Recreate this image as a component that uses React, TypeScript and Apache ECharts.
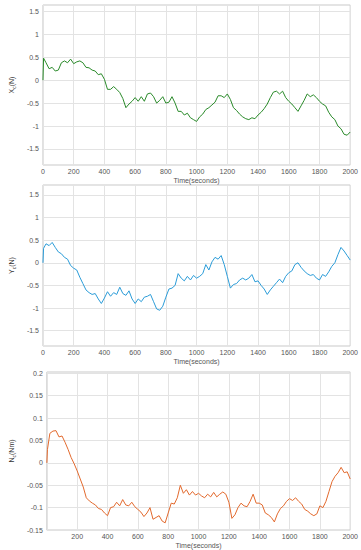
import React, { useEffect, useRef } from "react";
import * as echarts from "echarts";

const TIME = [0, 4, 20, 40, 60, 80, 100, 120, 140, 160, 180, 200, 220, 240, 260, 280, 300, 320, 340, 360, 380, 400, 420, 440, 460, 480, 500, 520, 540, 560, 580, 600, 620, 640, 660, 680, 700, 720, 740, 760, 780, 800, 820, 840, 860, 880, 900, 920, 940, 960, 980, 1000, 1020, 1040, 1060, 1080, 1100, 1120, 1140, 1160, 1180, 1200, 1220, 1240, 1260, 1280, 1300, 1320, 1340, 1360, 1380, 1400, 1420, 1440, 1460, 1480, 1500, 1520, 1540, 1560, 1580, 1600, 1620, 1640, 1660, 1680, 1700, 1720, 1740, 1760, 1780, 1800, 1820, 1840, 1860, 1880, 1900, 1920, 1940, 1960, 1980, 2000];

const XC = [0, 0.48, 0.38, 0.25, 0.28, 0.2, 0.22, 0.38, 0.42, 0.38, 0.46, 0.36, 0.4, 0.42, 0.38, 0.28, 0.27, 0.22, 0.2, 0.12, 0.14, 0.02, -0.2, -0.2, -0.14, -0.2, -0.27, -0.4, -0.6, -0.52, -0.46, -0.38, -0.46, -0.36, -0.46, -0.3, -0.28, -0.36, -0.5, -0.44, -0.36, -0.5, -0.48, -0.36, -0.5, -0.68, -0.68, -0.76, -0.72, -0.82, -0.86, -0.9, -0.8, -0.74, -0.64, -0.6, -0.54, -0.48, -0.34, -0.34, -0.38, -0.3, -0.42, -0.6, -0.66, -0.74, -0.8, -0.84, -0.86, -0.82, -0.84, -0.76, -0.7, -0.62, -0.52, -0.38, -0.26, -0.24, -0.3, -0.24, -0.38, -0.46, -0.52, -0.6, -0.68, -0.56, -0.44, -0.3, -0.36, -0.32, -0.38, -0.46, -0.52, -0.56, -0.7, -0.8, -0.86, -1.0, -1.06, -1.18, -1.2, -1.13];

const YC = [0, 0.32, 0.42, 0.38, 0.45, 0.34, 0.24, 0.2, 0.12, 0.08, -0.06, -0.12, -0.16, -0.32, -0.46, -0.6, -0.66, -0.7, -0.68, -0.8, -0.9, -0.78, -0.64, -0.74, -0.66, -0.7, -0.54, -0.68, -0.72, -0.62, -0.8, -0.9, -0.8, -0.86, -0.76, -0.74, -0.7, -0.86, -1.02, -1.05, -0.96, -0.76, -0.58, -0.56, -0.5, -0.24, -0.34, -0.4, -0.3, -0.38, -0.28, -0.34, -0.3, -0.24, -0.04, -0.16, 0.02, 0.12, 0.08, 0.16, -0.04, -0.3, -0.56, -0.48, -0.46, -0.38, -0.34, -0.38, -0.34, -0.26, -0.42, -0.4, -0.5, -0.58, -0.7, -0.6, -0.52, -0.44, -0.36, -0.44, -0.3, -0.22, -0.18, -0.04, 0.0, -0.1, -0.18, -0.24, -0.28, -0.26, -0.34, -0.38, -0.26, -0.3, -0.2, -0.08, 0.0, 0.18, 0.34, 0.26, 0.16, 0.06];

const NC = [0, 0.03, 0.066, 0.071, 0.072, 0.058, 0.06, 0.046, 0.03, 0.012, -0.002, -0.018, -0.036, -0.054, -0.078, -0.085, -0.09, -0.094, -0.102, -0.104, -0.112, -0.118, -0.1, -0.098, -0.088, -0.096, -0.082, -0.094, -0.096, -0.088, -0.098, -0.104, -0.11, -0.12, -0.112, -0.1, -0.126, -0.122, -0.118, -0.13, -0.134, -0.112, -0.09, -0.092, -0.078, -0.05, -0.068, -0.06, -0.072, -0.064, -0.072, -0.068, -0.074, -0.078, -0.07, -0.076, -0.066, -0.076, -0.07, -0.065, -0.07, -0.088, -0.124, -0.116, -0.1, -0.09, -0.096, -0.098, -0.086, -0.07, -0.09, -0.09, -0.094, -0.112, -0.116, -0.122, -0.132, -0.114, -0.102, -0.096, -0.086, -0.08, -0.084, -0.078, -0.086, -0.092, -0.104, -0.108, -0.114, -0.118, -0.114, -0.096, -0.1, -0.086, -0.064, -0.042, -0.03, -0.022, -0.01, -0.022, -0.02, -0.036];

const Y_TICKS_F = [-1.5, -1, -0.5, 0, 0.5, 1, 1.5];
const Y_TICKS_N = [-0.15, -0.1, -0.05, 0, 0.05, 0.1, 0.15, 0.2];

const X_NAME = "Time(seconds)";
const Y_NAMES = ["X{s|c}(N)", "Y{s|c}(N)", "N{s|c}(Nm)"];
const COLORS = ["#2a8a2a", "#2b9cd8", "#e2692d"];

const FONT = "'Liberation Sans', Arial, sans-serif";
const LABEL_COLOR = "#555";
const GRID_LINE = "#e3e3e3";

const fmt = (v: number) => String(Math.round(v * 1000) / 1000);

export default function App() {
  const ref = useRef<HTMLDivElement>(null);
  useEffect(() => {
    if (!ref.current) return;
    const chart = echarts.init(ref.current, undefined, { renderer: "svg" });
    const grids = [
      { left: 22, top: 5, width: 334, height: 160 },
      { left: 23, top: 185, width: 329, height: 161 },
      { left: 26, top: 372, width: 326, height: 160 },
    ];
    const yRanges = [
      [-1.85, 1.64],
      [-1.84, 1.72],
      [-0.15, 0.203],
    ];
    const yTicks = [Y_TICKS_F, Y_TICKS_F, Y_TICKS_N];
    const series = [XC, YC, NC];

    const option: any = {
      animation: false,
      backgroundColor: "#fff",
      grid: grids.map((g) => ({
        ...g,
        show: true,
        borderColor: "#c9c9c9",
        borderWidth: 1,
        backgroundColor: "#fff",
        containLabel: false,
      })),
      xAxis: grids.map((_, i) => ({
        type: "value",
        gridIndex: i,
        min: 0,
        max: 2000,
        interval: 200,
        name: X_NAME,
        nameLocation: "middle",
        nameGap: 12,
        nameTextStyle: { fontSize: 7, color: LABEL_COLOR, fontFamily: FONT },
        axisLine: { show: false },
        axisTick: { show: false },
        splitLine: { show: true, lineStyle: { color: GRID_LINE, width: 1 } },
        axisLabel: {
          fontSize: 7,
          color: LABEL_COLOR,
          fontFamily: FONT,
          margin: 3,
          showMinLabel: i !== 2,
          formatter: (v: number) => String(v),
        },
      })),
      yAxis: grids.map((_, i) => ({
        type: "value",
        gridIndex: i,
        min: yRanges[i][0],
        max: yRanges[i][1],
        name: Y_NAMES[i],
        nameLocation: "middle",
        nameGap: i === 2 ? 14 : 11,
        nameRotate: 90,
        nameTextStyle: {
          fontSize: 7,
          color: "#333",
          fontFamily: FONT,
          rich: { s: { fontSize: 5, verticalAlign: "bottom", color: "#333", fontFamily: FONT, padding: [4, 0, 0, 0] } },
        },
        axisLine: { show: false },
        axisTick: { show: false, customValues: yTicks[i] },
        splitLine: { show: true, lineStyle: { color: GRID_LINE, width: 1 } },
        axisLabel: {
          fontSize: 7,
          color: LABEL_COLOR,
          fontFamily: FONT,
          margin: 4,
          customValues: yTicks[i],
          formatter: (v: number) => fmt(v),
        },
      })),
      series: series.map((vals, i) => ({
        type: "line",
        xAxisIndex: i,
        yAxisIndex: i,
        showSymbol: false,
        symbol: "none",
        data: TIME.map((t, k) => [t, vals[k]]),
        lineStyle: { color: COLORS[i], width: 1 },
        itemStyle: { color: COLORS[i] },
      })),
    };
    chart.setOption(option);
    return () => chart.dispose();
  }, []);
  return (
    <div
      ref={ref}
      style={{ position: "fixed", left: 0, top: 0, width: 361, height: 550, background: "#fff" }}
    />
  );
}
